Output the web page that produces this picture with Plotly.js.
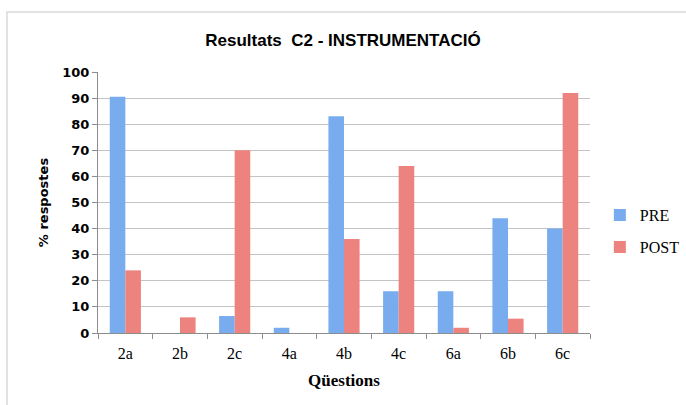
<!DOCTYPE html>
<html>
<head>
<meta charset="utf-8">
<script src="https://cdn.plot.ly/plotly-3.0.1.min.js"></script>
<style>html,body{margin:0;padding:0;background:#fff;}#chart{width:686px;height:405px;}</style>
</head>
<body>
<div id="chart"></div>
<script>
const categories = ["2a", "2b", "2c", "4a", "4b", "4c", "6a", "6b", "6c"];
const preValues  = [90.5, 0, 6.5, 2, 83, 16, 16, 44, 40];
const postValues = [24, 6, 70, 0, 36, 64, 2, 5.5, 92];
const yTicks = [0, 10, 20, 30, 40, 50, 60, 70, 80, 90, 100];

const traces = [
  {type: "bar", name: "PRE", x: categories, y: preValues, legendgroup: "pre",
   marker: {color: "#78acee", line: {width: 0}}},
  {type: "bar", name: "POST", x: categories, y: postValues, legendgroup: "post",
   marker: {color: "#ec837e", line: {width: 0}}}
];

const layout = {
  width: 686, height: 405,
  margin: {l: 98, r: 96, t: 72, b: 72, autoexpand: false},
  paper_bgcolor: "#ffffff", plot_bgcolor: "#ffffff",
  title: {text: "<b>Resultats  C2 - INSTRUMENTACIÓ</b>", x: 0.5, xanchor: "center", y: 0.9, yanchor: "middle",
          font: {family: "Liberation Sans, Arial, sans-serif", size: 17, color: "#000"}},
  barmode: "group", bargap: 0.43, bargroupgap: 0,
  showlegend: true,
  legend: {x: 1.02, y: 0.39, xanchor: "left", yanchor: "middle",
           font: {family: "Liberation Serif, serif", size: 16, color: "#000"},
           tracegroupgap: 8, itemwidth: 30},
  xaxis: {
    type: "category", tickson: "boundaries", ticks: "outside", ticklen: 5, tickcolor: "#8c8c8c",
    ticklabelstandoff: 6,
    showline: true, linecolor: "#8c8c8c", linewidth: 1, showgrid: false,
    tickfont: {family: "Liberation Serif, serif", size: 16, color: "#000"},
    title: {text: "<b>Qüestions</b>", font: {family: "Liberation Serif, serif", size: 17, color: "#000"}, standoff: 12}
  },
  yaxis: {
    range: [0, 100], tickvals: yTicks, ticktext: yTicks.map(String),
    ticks: "outside", ticklen: 5, tickcolor: "#8c8c8c",
    showline: true, linecolor: "#8c8c8c", linewidth: 1,
    showgrid: true, gridcolor: "#c4c4c4", gridwidth: 1, zeroline: false,
    tickfont: {family: "DejaVu Sans, Verdana, sans-serif", size: 13, color: "#000", weight: "bold"},
    title: {text: "<b>% respostes</b>", font: {family: "DejaVu Sans, Verdana, sans-serif", size: 13, color: "#000"}, standoff: 10}
  },
  shapes: [
    {type: "rect", xref: "paper", yref: "paper", x0: -0.185, x1: 1.4, y0: -0.5, y1: 1.23,
     line: {color: "#d9d9d9", width: 1.5}, fillcolor: "rgba(0,0,0,0)", layer: "below"}
  ]
};

Plotly.newPlot("chart", traces, layout, {displayModeBar: false, responsive: false});
</script>
</body>
</html>
